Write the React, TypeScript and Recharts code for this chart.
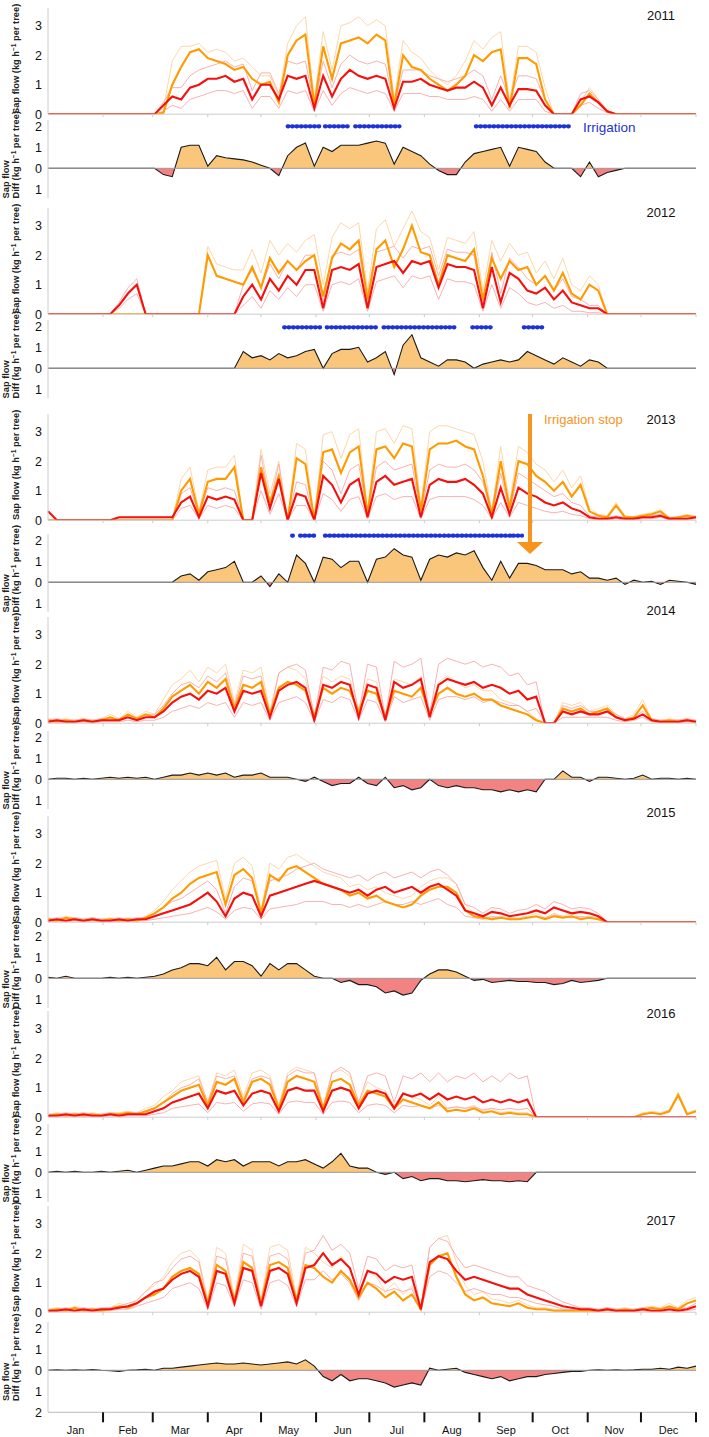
import React from 'react';
import { ComposedChart, Line, Area, XAxis, YAxis, ReferenceLine } from 'recharts';

// ---------- x grid (day of year, 5-day steps) ----------
const DAYS: number[] = Array.from({ length: 74 }, (_, i) => Math.min(i * 5, 365));
const MONTH_STARTS = [31, 59, 90, 120, 151, 181, 212, 243, 273, 304, 334, 365];
const MONTH_MIDS = [15.5, 45, 74.5, 105, 135.5, 166, 196.5, 227.5, 258, 288.5, 319, 349.5];
const MONTH_LABELS = ['Jan', 'Feb', 'Mar', 'Apr', 'May', 'Jun', 'Jul', 'Aug', 'Sep', 'Oct', 'Nov', 'Dec'];
const SAP_TICKS = [0, 1, 2, 3];
const DIFF_TICKS = [2, 1, 0, -1];
const DIFF_TICKS_LAST = [2, 1, 0, -1, -2];

// ---------- 2011 ----------
const orange2011 = [0,0,0,0,0,0,0,0,0,0, 0,0,0,0.05,1.0,1.6,2.1,2.2,1.9,1.8, 1.7,1.5,1.6,1.2,1.0,1.1,0.4,2.0,2.5,2.7, 0.3,2.3,1.2,2.4,2.5,2.6,2.4,2.7,2.5,0.3, 2.0,1.6,1.5,1.2,1.0,0.8,1.0,1.3,2.0,1.8, 2.1,2.2,0.2,1.9,1.9,1.7,0.5,0,0,0, 0.3,0.7,0.4,0.1,0,0,0,0,0,0, 0,0,0,0];
const orangeHi2011 = [0,0,0,0,0,0,0,0,0,0, 0,0,0,0.2,1.8,2.3,2.3,2.4,2.1,2.2, 2.1,1.8,1.9,1.6,1.3,1.3,0.6,2.4,3.0,3.3, 0.5,2.8,1.5,3.0,3.1,3.3,3.0,3.2,3.0,0.5, 2.5,2.1,1.9,1.5,1.2,1.0,1.3,1.8,2.5,2.2, 2.6,2.8,0.4,2.3,2.3,2.1,0.9,0,0,0, 0.4,0.9,0.5,0.1,0,0,0,0,0,0, 0,0,0,0];
const red2011 = [0,0,0,0,0,0,0,0,0,0, 0,0,0,0.3,0.6,0.5,0.9,1.0,1.2,1.2, 1.3,1.1,1.2,0.5,1.0,1.0,0.5,1.3,1.2,1.3, 0.2,1.3,0.6,1.2,1.5,1.3,1.2,1.3,1.2,0.2, 1.1,1.1,1.2,1.0,0.9,0.8,0.9,0.9,1.1,0.9, 0.3,0.9,0.3,0.85,0.85,0.8,0.3,0,0,0, 0.5,0.6,0.4,0.1,0,0,0,0,0,0, 0,0,0,0];
const redHi2011 = [0,0,0,0,0,0,0,0,0,0, 0,0,0,0.4,0.9,0.9,1.3,1.5,1.6,1.7, 1.8,1.6,1.7,0.8,1.4,1.4,0.7,1.8,1.7,1.8, 0.3,1.8,0.9,1.7,2.0,1.8,1.7,1.8,1.7,0.3, 1.5,1.5,1.5,1.3,1.2,1.1,1.2,1.3,1.5,1.3, 0.5,1.3,0.5,1.3,1.3,1.2,0.5,0,0,0, 0.7,0.8,0.5,0.1,0,0,0,0,0,0, 0,0,0,0];
const redLo2011 = [0,0,0,0,0,0,0,0,0,0, 0,0,0,0.1,0.3,0.2,0.5,0.6,0.7,0.8, 0.8,0.7,0.8,0.2,0.6,0.6,0.2,0.8,0.7,0.8, 0.1,0.8,0.3,0.7,0.9,0.8,0.7,0.8,0.7,0.1, 0.7,0.7,0.7,0.6,0.6,0.5,0.5,0.5,0.6,0.5, 0.1,0.5,0.1,0.5,0.5,0.5,0.1,0,0,0, 0.3,0.4,0.2,0.05,0,0,0,0,0,0, 0,0,0,0];
const diff2011 = [0,0,0,0,0,0,0,0,0,0, 0,0,0,-0.3,-0.4,1.0,1.1,1.1,0.1,0.6, 0.5,0.45,0.4,0.3,0.15,0.0,-0.35,0.6,1.0,1.2, 0.1,1.0,0.8,1.1,1.1,1.1,1.2,1.3,1.2,0.2, 1.0,0.8,0.6,0.2,-0.1,-0.3,-0.3,0.3,0.7,0.8, 0.9,1.0,0.1,1.0,0.9,0.8,0.3,0,0,0, -0.4,0.3,-0.4,-0.2,-0.1,0,0,0,0,0, 0,0,0,0];
const irrigation2011 = [[135, 154], [156, 170], [173, 198], [241, 281], [283, 294]];

// ---------- 2012 ----------
const orange2012 = [0,0,0,0,0,0,0,0,0,0, 0,0,0,0,0,0,0,0,2.0,1.3, 1.2,1.1,1.0,1.6,0.9,1.9,1.4,1.8,1.5,1.8, 2.0,0.6,1.9,2.4,2.2,2.5,0.5,2.2,2.5,1.6, 2.2,3.0,2.1,2.0,1.0,2.0,1.9,1.8,2.2,0.5, 1.9,1.2,1.8,1.5,1.6,1.0,1.3,0.8,1.4,0.7, 0.5,1.0,0.8,0,0,0,0,0,0,0, 0,0,0,0];
const orangeHi2012 = [0,0,0,0,0,0,0,0,0,0, 0,0,0,0,0,0,0,0,2.3,1.7, 1.6,1.5,1.5,2.2,1.4,2.5,2.0,2.4,2.1,2.5, 2.7,1.0,2.6,3.1,2.9,3.1,0.8,2.9,3.2,2.3, 2.9,3.5,2.8,2.6,1.5,2.6,2.5,2.4,2.8,0.8, 2.5,1.8,2.4,2.0,2.1,1.4,1.8,1.2,1.9,1.0, 0.8,1.3,1.0,0,0,0,0,0,0,0, 0,0,0,0];
const red2012 = [0,0,0,0,0,0,0,0,0.3,0.7, 1.0,0,0,0,0,0,0,0,0,0, 0,0,0.6,1.0,0.5,1.2,0.8,1.3,1.0,1.5, 1.5,0.2,1.5,1.6,1.5,1.7,0.2,1.6,1.7,1.8, 1.4,1.8,1.7,1.8,0.9,1.7,1.6,1.6,1.5,0.2, 1.6,0.4,1.4,1.2,0.8,0.7,0.9,0.5,0.8,0.4, 0.3,0.2,0.2,0,0,0,0,0,0,0, 0,0,0,0];
const redHi2012 = [0,0,0,0,0,0,0,0,0.4,0.9, 1.2,0,0,0,0,0,0,0,0,0, 0,0,1.0,1.5,0.9,1.7,1.2,1.8,1.5,2.0, 2.0,0.4,2.0,2.1,2.0,2.2,0.4,2.1,2.2,2.3, 1.9,2.3,2.2,2.3,1.3,2.2,2.1,2.1,2.0,0.4, 2.1,0.7,1.9,1.6,1.2,1.0,1.3,0.8,1.2,0.6, 0.5,0.3,0.3,0,0,0,0,0,0,0, 0,0,0,0];
const redLo2012 = [0,0,0,0,0,0,0,0,0.2,0.5, 0.7,0,0,0,0,0,0,0,0,0, 0,0,0.3,0.6,0.2,0.8,0.5,0.9,0.6,1.0, 1.0,0.1,1.0,1.1,1.0,1.2,0.1,1.1,1.2,1.3, 0.9,1.3,1.2,1.3,0.5,1.2,1.1,1.1,1.0,0.1, 1.0,0.2,0.9,0.7,0.4,0.3,0.4,0.2,0.3,0.1, 0.1,0.05,0.05,0,0,0,0,0,0,0, 0,0,0,0];
const diff2012 = [0,0,0,0,0,0,0,0,0,0, 0,0,0,0,0,0,0,0,0,0, 0,0,0.8,0.5,0.6,0.4,0.7,0.5,0.6,0.8, 0.9,0.0,0.7,0.9,0.9,1.0,0.3,0.5,0.8,-0.3, 1.1,1.6,0.5,0.3,0.1,0.4,0.4,0.3,0.0,0.2, 0.3,0.4,0.3,0.4,0.8,0.6,0.4,0.2,0.5,0.3, 0.1,0.4,0.3,0,0,0,0,0,0,0, 0,0,0,0];
const irrigation2012 = [[133, 154], [157, 186], [189, 224], [226, 229], [239, 251], [268, 279]];

// ---------- 2013 ----------
const orange2013 = [0,0,0,0,0,0,0,0,0,0, 0,0,0,0,0,1.0,1.4,0.2,1.3,1.4, 1.4,1.8,0,0,1.8,0.6,1.5,0,2.1,1.9, 0,2.3,2.4,1.6,2.3,2.5,0.2,2.4,2.5,2.1, 2.6,2.5,0.3,2.4,2.6,2.6,2.7,2.5,2.4,1.5, 0.2,2.0,0.4,2.0,1.9,1.5,1.3,1.0,1.3,0.8, 1.2,0.3,0.15,0.1,0.5,0.1,0.1,0.15,0.2,0.3, 0.05,0.1,0.15,0.1];
const orangeHi2013 = [0,0,0,0,0,0,0,0,0,0, 0,0,0,0,0,1.4,1.8,0.3,1.7,1.8, 1.8,2.2,0,0,2.4,0.9,2.0,0,2.6,2.4, 0,2.9,3.0,2.1,2.9,3.1,0.3,3.0,3.1,2.6, 3.2,3.1,0.5,3.0,3.2,3.2,3.1,3.0,2.9,2.0, 0.3,2.5,0.6,2.5,2.3,1.9,1.7,1.3,1.7,1.1, 1.5,0.4,0.2,0.15,0.6,0.15,0.1,0.2,0.25,0.35, 0.1,0.1,0.2,0.1];
const red2013 = [0.3,0,0,0,0,0,0,0,0.1,0.1, 0.1,0.1,0.1,0.1,0.1,0.6,0.8,0.1,0.8,0.7, 0.8,0.7,0,0,1.6,0.4,1.4,0,0.9,0.8, 0,1.5,1.2,0.6,1.2,1.4,0.1,1.3,1.5,1.2, 1.3,1.4,0.1,1.2,1.4,1.3,1.3,1.4,1.2,0.9, 0.1,1.1,0.2,1.1,0.9,0.8,0.6,0.5,0.6,0.4, 0.3,0.1,0.05,0.05,0.1,0.05,0.05,0.1,0.1,0.15, 0.05,0.05,0.05,0.1];
const redHi2013 = [0,0,0,0,0,0,0,0,0,0, 0,0,0,0,0,0.9,1.1,0.2,1.1,1.0, 1.1,1.0,0,0,2.2,0.6,1.9,0,1.3,1.2, 0,2.0,1.7,0.9,1.7,1.9,0.2,1.8,2.0,1.7, 1.8,1.9,0.2,1.7,1.9,1.8,1.8,1.9,1.7,1.3, 0.2,1.6,0.3,1.6,1.4,1.2,1.0,0.8,0.9,0.6, 0.5,0.15,0.1,0.1,0.15,0.1,0.1,0.15,0.15,0.2, 0.1,0.1,0.1,0.15];
const redLo2013 = [0,0,0,0,0,0,0,0,0,0, 0,0,0,0,0,0.4,0.5,0.05,0.5,0.4, 0.5,0.4,0,0,1.0,0.2,0.9,0,0.5,0.5, 0,0.9,0.7,0.3,0.7,0.8,0.05,0.8,0.9,0.7, 0.8,0.8,0.05,0.7,0.8,0.8,0.8,0.8,0.7,0.5, 0.05,0.6,0.1,0.6,0.5,0.4,0.3,0.25,0.3,0.2, 0.15,0.05,0,0,0.05,0,0,0.05,0.05,0.1, 0,0,0,0.05];
const diff2013 = [0,0,0,0,0,0,0,0,0,0, 0,0,0,0,0,0.3,0.4,0.1,0.5,0.6, 0.7,1.0,0,0,0.3,-0.2,0.4,0,1.3,0.9, 0,1.2,1.1,0.7,1.0,1.0,0.0,1.1,1.2,1.6, 1.3,1.2,0.1,1.1,1.3,1.2,1.4,1.3,1.5,0.7, 0.1,1.0,0.2,0.9,0.9,0.8,0.6,0.6,0.6,0.4, 0.5,0.2,0.2,0.1,0.2,-0.1,0.1,0.0,0.05,-0.1, 0.1,0.05,0.0,-0.1];
const irrigation2013 = [[137.5, 138.5], [142, 151], [156, 211], [213, 221], [223, 253], [255, 261], [262, 267]];

// ---------- 2014 ----------
const orange2014 = [0.1,0.05,0.1,0.05,0.1,0.05,0.1,0.2,0.1,0.3, 0.15,0.3,0.2,0.5,0.9,1.1,1.3,1.0,1.4,1.2, 1.5,0.5,1.3,1.2,1.4,0.3,1.2,1.4,1.3,1.1, 0.2,1.2,1.0,1.2,1.1,0.4,1.1,1.0,0.2,1.1, 1.0,0.9,1.2,0.3,1.0,1.2,1.0,0.9,1.0,0.8, 0.8,0.6,0.5,0.4,0.3,0.1,0,0,0.5,0.4, 0.5,0.3,0.4,0.5,0.2,0.1,0.2,0.6,0.1,0.05, 0.1,0.05,0.1,0.05];
const orangeHi2014 = [0.15,0.1,0.15,0.1,0.15,0.1,0.15,0.3,0.15,0.4, 0.2,0.4,0.3,0.8,1.3,1.5,1.8,1.4,1.9,1.7, 2.0,0.7,1.8,1.7,1.9,0.4,1.7,1.9,1.8,1.5, 0.3,1.6,1.4,1.6,1.5,0.5,1.5,1.4,0.3,1.5, 1.4,1.3,1.6,0.4,1.4,1.6,1.4,1.2,1.3,1.1, 1.1,0.8,0.7,0.6,0.4,0.15,0,0,0.7,0.6, 0.7,0.4,0.5,0.6,0.3,0.15,0.3,0.8,0.15,0.1, 0.15,0.1,0.15,0.1];
const red2014 = [0.05,0.1,0.05,0.05,0.1,0.05,0.1,0.1,0.1,0.2, 0.1,0.2,0.2,0.4,0.7,0.9,1.0,0.8,1.1,1.0, 1.2,0.4,1.1,1.0,1.1,0.2,1.1,1.3,1.4,1.2, 0.1,1.3,1.2,1.4,1.3,0.2,1.3,1.2,0.1,1.4, 1.2,1.3,1.5,0.2,1.3,1.5,1.4,1.3,1.4,1.2, 1.3,1.2,1.0,1.1,0.8,0.9,0,0,0.4,0.3, 0.4,0.3,0.3,0.4,0.2,0.1,0.15,0.3,0.1,0.05, 0.05,0.05,0.1,0.05];
const redHi2014 = [0.1,0.15,0.1,0.1,0.15,0.1,0.15,0.15,0.15,0.3, 0.15,0.3,0.3,0.6,1.0,1.3,1.4,1.2,1.6,1.4, 1.7,0.6,1.6,1.5,1.6,0.3,1.7,1.9,2.0,1.8, 0.2,1.9,1.8,2.1,2.0,0.3,2.0,1.9,0.2,2.1, 1.9,2.0,2.2,0.3,2.0,2.2,2.1,2.0,2.1,1.9, 2.0,1.9,1.6,1.7,1.3,1.4,0,0,0.6,0.5, 0.6,0.4,0.4,0.5,0.3,0.15,0.2,0.4,0.15,0.1, 0.1,0.1,0.15,0.1];
const redLo2014 = [0,0.05,0,0,0.05,0,0.05,0.05,0.05,0.1, 0.05,0.1,0.1,0.2,0.4,0.5,0.6,0.5,0.7,0.6, 0.7,0.2,0.7,0.6,0.7,0.1,0.7,0.8,0.9,0.7, 0.05,0.8,0.7,0.9,0.8,0.1,0.8,0.7,0.05,0.9, 0.7,0.8,0.9,0.1,0.8,0.9,0.9,0.8,0.9,0.7, 0.8,0.7,0.6,0.6,0.4,0.5,0,0,0.2,0.2, 0.2,0.2,0.2,0.2,0.1,0.05,0.1,0.2,0.05,0, 0,0,0.05,0];
const diff2014 = [0,0.05,0.05,0,0.05,0,0.05,0.1,0.05,0.1, 0.05,0.1,0.0,0.1,0.2,0.2,0.3,0.2,0.3,0.2, 0.3,0.1,0.2,0.2,0.3,0.1,0.1,0.1,0.0,-0.1, 0.1,-0.1,-0.3,-0.2,-0.2,0.1,-0.2,-0.3,0.1,-0.4, -0.3,-0.5,-0.4,0.0,-0.3,-0.4,-0.3,-0.4,-0.4,-0.5, -0.5,-0.6,-0.5,-0.6,-0.5,-0.6,0,0,0.4,0.1, 0.1,-0.1,0.1,0.1,0.05,0,0.05,0.2,0.0,0.05, 0.05,0,0.05,0.0];

// ---------- 2015 ----------
const orange2015 = [0.1,0.05,0.15,0.1,0.05,0.1,0.05,0.1,0.05,0.1, 0.05,0.15,0.3,0.5,0.8,1.0,1.3,1.5,1.6,1.7, 0.6,1.6,1.8,1.5,0.3,1.6,1.4,1.8,1.9,1.7, 1.5,1.3,1.2,1.1,0.9,1.0,0.8,0.9,0.7,0.6, 0.5,0.6,0.9,1.1,1.2,1.2,1.0,0.4,0.2,0.15, 0.1,0.15,0.1,0.1,0.15,0.2,0.1,0.2,0.15,0.2, 0.1,0.15,0.1,0,0,0,0,0,0,0, 0,0,0,0];
const orangeHi2015 = [0.15,0.1,0.2,0.15,0.1,0.15,0.1,0.15,0.1,0.15, 0.1,0.2,0.4,0.7,1.1,1.4,1.7,1.9,2.0,2.1, 0.8,2.0,2.2,1.9,0.4,2.0,1.8,2.2,2.3,2.1, 1.9,1.7,1.6,1.5,1.2,1.3,1.1,1.2,1.0,0.9, 0.8,0.9,1.2,1.4,1.5,1.5,1.3,0.6,0.3,0.2, 0.15,0.2,0.15,0.15,0.2,0.3,0.15,0.3,0.2,0.3, 0.15,0.2,0.15,0,0,0,0,0,0,0, 0,0,0,0];
const red2015 = [0.05,0.1,0.05,0.1,0.05,0.1,0.05,0.05,0.1,0.05, 0.1,0.1,0.2,0.3,0.4,0.5,0.6,0.8,1.0,0.7, 0.2,0.8,1.0,0.9,0.2,0.9,1.0,1.1,1.2,1.3, 1.4,1.3,1.2,1.1,1.0,1.1,0.9,1.1,1.2,1.0, 1.1,1.2,1.0,1.2,1.3,1.1,0.9,0.4,0.3,0.2, 0.35,0.3,0.2,0.25,0.3,0.4,0.3,0.5,0.4,0.3, 0.35,0.3,0.2,0,0,0,0,0,0,0, 0,0,0,0];
const redHi2015 = [0.1,0.15,0.1,0.15,0.1,0.15,0.1,0.1,0.15,0.1, 0.15,0.15,0.3,0.5,0.7,0.8,1.0,1.2,1.4,1.1, 0.3,1.2,1.5,1.4,0.3,1.4,1.5,1.6,1.8,1.9, 2.0,1.8,1.7,1.6,1.5,1.6,1.4,1.6,1.7,1.5, 1.6,1.7,1.5,1.7,1.8,1.6,1.3,0.6,0.5,0.3, 0.5,0.45,0.3,0.4,0.45,0.6,0.45,0.7,0.6,0.45, 0.5,0.45,0.3,0,0,0,0,0,0,0, 0,0,0,0];
const redLo2015 = [0,0.05,0,0.05,0,0.05,0,0,0.05,0, 0.05,0.05,0.1,0.15,0.2,0.25,0.3,0.4,0.5,0.35, 0.1,0.4,0.5,0.45,0.1,0.45,0.5,0.55,0.6,0.7, 0.7,0.7,0.6,0.6,0.5,0.6,0.5,0.6,0.7,0.6, 0.6,0.7,0.6,0.7,0.8,0.6,0.5,0.2,0.15,0.1, 0.2,0.15,0.1,0.1,0.15,0.2,0.15,0.25,0.2,0.15, 0.2,0.15,0.1,0,0,0,0,0,0,0, 0,0,0,0];
const diff2015 = [0.05,0,0.1,0,0,0,0,0.05,0,0.05, 0,0.05,0.1,0.2,0.4,0.5,0.7,0.7,0.6,1.0, 0.4,0.8,0.8,0.6,0.1,0.7,0.4,0.7,0.7,0.4, 0.1,0.0,0.0,-0.2,-0.1,-0.3,-0.3,-0.4,-0.7,-0.6, -0.8,-0.7,-0.1,0.2,0.4,0.4,0.3,0.1,-0.1,-0.05, -0.2,-0.15,-0.1,-0.15,-0.15,-0.2,-0.2,-0.3,-0.25,-0.1, -0.2,-0.15,-0.1,0,0,0,0,0,0,0, 0,0,0,0];

// ---------- 2016 ----------
const orange2016 = [0.05,0.1,0.05,0.1,0.05,0.1,0.05,0.1,0.1,0.15, 0.1,0.2,0.3,0.5,0.7,0.9,1.0,1.1,0.4,1.2, 1.1,1.3,0.5,1.2,1.3,1.1,0.3,1.2,1.4,1.3, 1.2,0.3,1.2,1.3,1.1,0.4,0.9,0.8,0.7,0.3, 0.6,0.5,0.4,0.3,0.5,0.2,0.25,0.2,0.3,0.15, 0.2,0.1,0.15,0.1,0.1,0,0,0,0,0, 0,0,0,0,0,0,0,0.1,0.15,0.1, 0.2,0.75,0.1,0.2];
const orangeHi2016 = [0.1,0.15,0.1,0.15,0.1,0.15,0.1,0.15,0.15,0.2, 0.15,0.3,0.4,0.7,0.9,1.2,1.3,1.4,0.5,1.5, 1.4,1.6,0.7,1.5,1.6,1.4,0.4,1.5,1.7,1.6, 1.5,0.4,1.5,1.6,1.4,0.5,1.2,1.0,0.9,0.4, 0.8,0.7,0.6,0.4,0.7,0.3,0.35,0.3,0.4,0.2, 0.3,0.15,0.2,0.15,0.15,0,0,0,0,0, 0,0,0,0,0,0,0,0.15,0.2,0.15, 0.25,0.85,0.15,0.25];
const red2016 = [0.05,0.05,0.1,0.05,0.1,0.05,0.05,0.1,0.05,0.1, 0.1,0.1,0.2,0.3,0.5,0.6,0.7,0.8,0.3,0.9, 0.8,0.9,0.4,0.8,0.9,0.8,0.2,0.9,1.0,0.9, 0.9,0.2,0.9,1.0,0.9,0.3,0.8,0.9,0.8,0.3, 0.8,0.7,0.8,0.6,0.8,0.6,0.7,0.6,0.7,0.5, 0.6,0.5,0.6,0.5,0.6,0,0,0,0,0, 0,0,0,0,0,0,0,0,0,0, 0,0,0,0];
const redHi2016 = [0.1,0.1,0.15,0.1,0.15,0.1,0.1,0.15,0.1,0.15, 0.15,0.15,0.3,0.5,0.8,1.0,1.1,1.3,0.5,1.4, 1.3,1.4,0.6,1.3,1.4,1.3,0.3,1.4,1.6,1.5, 1.5,0.3,1.5,1.7,1.5,0.5,1.4,1.5,1.4,0.5, 1.4,1.3,1.5,1.2,1.5,1.2,1.4,1.3,1.5,1.2, 1.4,1.2,1.5,1.3,1.4,0,0,0,0,0, 0,0,0,0,0,0,0,0,0,0, 0,0,0,0];
const redLo2016 = [0,0,0.05,0,0.05,0,0,0.05,0,0.05, 0.05,0.05,0.1,0.15,0.3,0.35,0.4,0.45,0.15,0.5, 0.45,0.5,0.2,0.45,0.5,0.45,0.1,0.5,0.55,0.5, 0.5,0.1,0.5,0.55,0.5,0.15,0.4,0.45,0.4,0.15, 0.4,0.35,0.4,0.3,0.4,0.3,0.35,0.3,0.35,0.25, 0.3,0.25,0.3,0.25,0.3,0,0,0,0,0, 0,0,0,0,0,0,0,0,0,0, 0,0,0,0];
const diff2016 = [0,0.05,0,0.05,0,0,0.05,0,0.05,0.1, 0,0.1,0.2,0.3,0.3,0.4,0.5,0.5,0.3,0.6, 0.5,0.6,0.3,0.5,0.5,0.5,0.3,0.5,0.5,0.6, 0.4,0.2,0.5,0.9,0.3,0.2,0.2,0.0,-0.1,0.0, -0.3,-0.2,-0.4,-0.3,-0.3,-0.4,-0.4,-0.45,-0.4,-0.35, -0.4,-0.4,-0.45,-0.4,-0.45,0,0,0,0,0, 0,0,0,0,0,0,0,0,0,0, 0,0,0,0];

// ---------- 2017 ----------
const orange2017 = [0.05,0.1,0.05,0.15,0.05,0.1,0.05,0.1,0.2,0.15, 0.3,0.5,0.6,0.8,1.2,1.4,1.5,1.3,0.3,1.6, 1.4,0.4,1.7,1.5,0.3,1.6,1.7,1.5,0.4,1.6, 1.5,1.2,1.0,1.4,1.1,0.5,1.0,0.8,0.5,0.7, 0.4,0.6,0.1,1.6,1.9,2.0,1.2,0.6,0.4,0.5, 0.3,0.25,0.2,0.3,0.15,0.1,0.1,0.05,0.05,0.05, 0.05,0.05,0.05,0.1,0.05,0.1,0.05,0.1,0.15,0.1, 0.2,0.1,0.3,0.4];
const orangeHi2017 = [0.1,0.15,0.1,0.2,0.1,0.15,0.1,0.15,0.3,0.2, 0.4,0.7,0.9,1.2,1.7,2.0,2.1,1.8,0.4,2.2, 2.0,0.5,2.3,2.1,0.4,2.2,2.3,2.1,0.5,2.2, 2.0,1.7,1.5,1.9,1.5,0.7,1.4,1.2,0.7,1.0, 0.6,0.9,0.15,2.2,2.5,2.6,1.7,0.9,0.6,0.7, 0.45,0.4,0.3,0.4,0.25,0.15,0.15,0.1,0.1,0.1, 0.1,0.1,0.1,0.15,0.1,0.15,0.1,0.15,0.2,0.15, 0.3,0.15,0.4,0.5];
const red2017 = [0.05,0.05,0.1,0.05,0.1,0.05,0.1,0.1,0.15,0.2, 0.3,0.5,0.7,0.8,1.1,1.3,1.4,1.2,0.2,1.4, 1.3,0.3,1.5,1.4,0.2,1.4,1.5,1.3,0.3,1.5, 1.6,2.0,1.6,1.8,1.5,0.6,1.4,1.3,1.0,1.2, 1.1,1.2,0.1,1.7,1.9,1.8,1.4,1.1,1.2,1.1, 1.0,0.9,0.8,0.8,0.6,0.5,0.4,0.3,0.2,0.15, 0.1,0.1,0.05,0.1,0.05,0.05,0.05,0.1,0.05,0.05, 0.1,0.05,0.1,0.2];
const redHi2017 = [0.1,0.1,0.15,0.1,0.15,0.1,0.15,0.15,0.2,0.3, 0.4,0.7,1.0,1.1,1.5,1.8,1.9,1.7,0.3,1.9, 1.8,0.4,2.0,1.9,0.3,1.9,2.0,1.8,0.4,2.0, 2.1,2.6,2.1,2.3,2.0,0.8,1.9,1.8,1.4,1.6, 1.5,1.6,0.15,2.2,2.5,2.4,1.9,1.5,1.6,1.5, 1.4,1.3,1.2,1.2,0.9,0.8,0.7,0.5,0.35,0.25, 0.15,0.15,0.1,0.15,0.1,0.1,0.1,0.15,0.1,0.1, 0.15,0.1,0.15,0.3];
const redLo2017 = [0,0,0.05,0,0.05,0,0.05,0.05,0.1,0.1, 0.2,0.3,0.4,0.5,0.8,0.9,1.0,0.8,0.1,1.0, 0.9,0.2,1.1,1.0,0.1,1.0,1.1,0.9,0.2,1.1, 1.1,1.4,1.1,1.3,1.0,0.4,1.0,0.9,0.7,0.8, 0.7,0.8,0.05,1.2,1.4,1.3,1.0,0.7,0.8,0.7, 0.6,0.6,0.5,0.5,0.4,0.3,0.25,0.2,0.1,0.1, 0.05,0.05,0,0.05,0,0,0,0.05,0,0, 0.05,0,0.05,0.1];
const diff2017 = [0,0.02,0,0.02,0,0.03,0,-0.02,-0.05,0, 0.02,0.05,0.0,0.1,0.1,0.15,0.2,0.25,0.3,0.35, 0.3,0.3,0.35,0.3,0.25,0.3,0.35,0.4,0.3,0.5, 0.2,-0.3,-0.5,-0.2,-0.5,-0.4,-0.4,-0.5,-0.6,-0.8, -0.7,-0.6,-0.7,0.1,0.0,0.05,0.1,-0.1,-0.2,-0.3, -0.4,-0.3,-0.5,-0.4,-0.3,-0.3,-0.2,-0.15,-0.1,-0.05, -0.05,0.0,0.02,0.0,0.02,0.0,0.02,0.05,0.05,0.1, 0.05,0.15,0.1,0.2];

// ---------- layout / styling ----------
const FONT = '"Liberation Sans", Arial, Helvetica, sans-serif';
const W = 709;
const PLOT_RIGHT_MARGIN = 13;
const AXIS_W = 48;
const K = 29.5;       // px per unit in sap-flow panels
const SAP_MAX = 3.6;
const KD = 21;        // px per unit in diff panels
const C_ORANGE = '#ff9a00';
const C_RED = '#f5100e';
const C_ORANGE_THIN = '#fdd3a0';
const C_PINK_THIN = '#f8a8a8';
const C_FILL_POS = '#f9c67c';
const C_FILL_NEG = '#f38282';
const C_BLUE = '#1d33d6';
const C_AXIS = '#cccccc';

type YearCfg = {
  year: number;
  orange: number[]; orangeHi: number[]; red: number[]; redHi: number[]; redLo: number[]; diff: number[];
  irr?: number[][]; irrLevel?: number;
  sapZero: number; diffZero: number; labelY: number; diffDomain: [number, number]; last?: boolean;
};

const YEARS: YearCfg[] = [
  { year: 2011, orange: orange2011, orangeHi: orangeHi2011, red: red2011, redHi: redHi2011, redLo: redLo2011, diff: diff2011, irr: irrigation2011, irrLevel: 2.0, sapZero: 114, diffZero: 168, labelY: 20, diffDomain: [-1.45, 2.3] },
  { year: 2012, orange: orange2012, orangeHi: orangeHi2012, red: red2012, redHi: redHi2012, redLo: redLo2012, diff: diff2012, irr: irrigation2012, irrLevel: 1.95, sapZero: 314, diffZero: 368, labelY: 217, diffDomain: [-1.45, 2.3] },
  { year: 2013, orange: orange2013, orangeHi: orangeHi2013, red: red2013, redHi: redHi2013, redLo: redLo2013, diff: diff2013, irr: irrigation2013, irrLevel: 2.22, sapZero: 520, diffZero: 582, labelY: 424, diffDomain: [-1.45, 2.3] },
  { year: 2014, orange: orange2014, orangeHi: orangeHi2014, red: red2014, redHi: redHi2014, redLo: redLo2014, diff: diff2014, sapZero: 723, diffZero: 779, labelY: 615, diffDomain: [-1.45, 2.3] },
  { year: 2015, orange: orange2015, orangeHi: orangeHi2015, red: red2015, redHi: redHi2015, redLo: redLo2015, diff: diff2015, sapZero: 922, diffZero: 978, labelY: 817, diffDomain: [-1.45, 2.3] },
  { year: 2016, orange: orange2016, orangeHi: orangeHi2016, red: red2016, redHi: redHi2016, redLo: redLo2016, diff: diff2016, sapZero: 1117, diffZero: 1172, labelY: 1018, diffDomain: [-1.45, 2.3] },
  { year: 2017, orange: orange2017, orangeHi: orangeHi2017, red: red2017, redHi: redHi2017, redLo: redLo2017, diff: diff2017, sapZero: 1312, diffZero: 1370, labelY: 1225, diffDomain: [-2, 2.3], last: true },
];

function rowsFor(y: YearCfg) {
  return DAYS.map((d, i) => ({
    day: d,
    o: y.orange[i], oh: y.orangeHi[i], r: y.red[i], rh: y.redHi[i], rl: y.redLo[i], diff: y.diff[i],
  }));
}

function irrRows(y: YearCfg) {
  const out: { day: number; v: number | null }[] = [];
  (y.irr || []).forEach(([s, e]) => {
    out.push({ day: s, v: y.irrLevel! });
    out.push({ day: e, v: y.irrLevel! });
    out.push({ day: e + 0.2, v: null });
  });
  return out;
}

const tickStyle = { fontSize: 12.5, fill: '#111', fontFamily: FONT };

function SapPanel({ y }: { y: YearCfg }) {
  const MT = 4, XH = 4, MB = 10;
  const plotH = SAP_MAX * K;
  const top = y.sapZero - plotH - MT;
  const data = rowsFor(y);
  return (
    <div style={{ position: 'absolute', left: 0, top }}>
      <ComposedChart width={W} height={MT + plotH + XH + MB} data={data} margin={{ top: MT, right: PLOT_RIGHT_MARGIN, bottom: MB, left: 0 }}>
        <XAxis dataKey="day" type="number" domain={[0, 365]} ticks={MONTH_STARTS} interval={0} tickFormatter={() => ''}
          height={XH} tickSize={3} axisLine={{ stroke: C_AXIS }} tickLine={{ stroke: C_AXIS }} />
        <YAxis type="number" domain={[0, SAP_MAX]} ticks={SAP_TICKS} width={AXIS_W} axisLine={{ stroke: C_AXIS }}
          tickLine={false} tickSize={3} tickMargin={3} tick={tickStyle} allowDataOverflow interval={0} />
        <Line dataKey="oh" stroke={C_ORANGE_THIN} strokeWidth={0.9} dot={false} isAnimationActive={false} />
        <Line dataKey="rh" stroke={C_PINK_THIN} strokeWidth={0.9} dot={false} isAnimationActive={false} />
        <Line dataKey="rl" stroke={C_PINK_THIN} strokeWidth={0.9} dot={false} isAnimationActive={false} />
        <Line dataKey="o" stroke={C_ORANGE} strokeWidth={2.1} dot={false} isAnimationActive={false} />
        <Line dataKey="r" stroke={C_RED} strokeWidth={2.1} dot={false} isAnimationActive={false} />
      </ComposedChart>
    </div>
  );
}

function DiffPanel({ y }: { y: YearCfg }) {
  const MT = 2;
  const [lo, hi] = y.diffDomain;
  const plotH = (hi - lo) * KD;
  const last = !!y.last;
  const xh = last ? 10 : 0;
  const lh = last ? 18 : 0;
  const top = y.diffZero - hi * KD - MT;
  const off = hi / (hi - lo);
  const gid = 'dg' + y.year;
  const data = rowsFor(y);
  return (
    <div style={{ position: 'absolute', left: 0, top }}>
      <ComposedChart width={W} height={MT + plotH + xh + lh} data={data} margin={{ top: MT, right: PLOT_RIGHT_MARGIN, bottom: 0, left: 0 }}>
        <defs>
          <linearGradient id={gid} gradientUnits="userSpaceOnUse" x1="0" y1={MT} x2="0" y2={MT + plotH}>
            <stop offset={off} stopColor={C_FILL_POS} />
            <stop offset={off} stopColor={C_FILL_NEG} />
          </linearGradient>
        </defs>
        <XAxis dataKey="day" type="number" domain={[0, 365]} hide={!last} ticks={MONTH_STARTS} interval={0}
          tickFormatter={() => ''} height={xh} tickSize={10} axisLine={{ stroke: '#bbbbbb' }}
          tickLine={{ stroke: '#111', strokeWidth: 2 }} />
        {last && (
          <XAxis xAxisId="lab" dataKey="day" type="number" domain={[0, 365]} ticks={MONTH_MIDS} interval={0}
            tickFormatter={(v: number) => MONTH_LABELS[MONTH_MIDS.indexOf(v)] || ''} height={lh}
            axisLine={false} tickLine={false} tickSize={0} tickMargin={4}
            tick={{ fontSize: 11, fill: '#111', fontFamily: FONT }} />
        )}
        <YAxis type="number" domain={[lo, hi]} ticks={last ? DIFF_TICKS_LAST : DIFF_TICKS} width={AXIS_W}
          tickFormatter={(v: number) => String(Math.abs(v))} axisLine={{ stroke: C_AXIS }} tickLine={false}
          tickSize={3} tickMargin={3} tick={tickStyle} interval={0} />
        <ReferenceLine y={0} stroke="#9a9a9a" strokeWidth={1} />
        <Area type="linear" dataKey="diff" baseValue={0} stroke="#1a1a1a" strokeWidth={1.1} fill={`url(#${gid})`}
          fillOpacity={1} dot={false} activeDot={false} isAnimationActive={false} />
        {y.irr && (
          <Line data={irrRows(y)} dataKey="v" stroke={C_BLUE} strokeWidth={4.2} strokeDasharray="0.8 3.6"
            strokeLinecap="round" dot={false} activeDot={false} connectNulls={false} isAnimationActive={false} />
        )}
      </ComposedChart>
    </div>
  );
}

function Overlay() {
  return (
    <svg width={W} height={1437} style={{ position: 'absolute', left: 0, top: 0, pointerEvents: 'none' }}>
      {YEARS.map((y) => {
        const [lo] = y.diffDomain;
        const diffBottom = y.diffZero - lo * KD;
        const dStart = Math.min(diffBottom, y.diffZero + 31);
        return (
          <g key={y.year} fontFamily={FONT} fill="#222">
            <text transform={`translate(18.5, ${y.sapZero}) rotate(-90)`} fontSize={9.3} fontWeight="bold">
              Sap flow (kg h<tspan dy={-3} fontSize={6.5}>−1</tspan><tspan dy={3}> per tree)</tspan>
            </text>
            <text transform={`translate(8.5, ${dStart}) rotate(-90)`} fontSize={9.3} fontWeight="bold">Sap flow</text>
            <text transform={`translate(18.5, ${dStart}) rotate(-90)`} fontSize={9.3} fontWeight="bold">
              Diff (kg h<tspan dy={-3} fontSize={6.5}>−1</tspan><tspan dy={3}> per tree)</tspan>
            </text>
            <text x={661} y={y.labelY} fontSize={13} textAnchor="middle" fill="#111">{y.year}</text>
          </g>
        );
      })}
      <text x={583} y={132} fontSize={13.5} fill={C_BLUE} fontFamily={FONT}>Irrigation</text>
      <text x={544} y={424} fontSize={13} fill="#f7941d" fontFamily={FONT}>Irrigation stop</text>
      <line x1={530} y1={414} x2={530} y2={545} stroke="#f7941d" strokeWidth={4} />
      <polygon points="517,542 543,542 530,554" fill="#f7941d" />
    </svg>
  );
}

export default function App() {
  return (
    <div style={{ position: 'absolute', left: 0, top: 0, width: W, height: 1437, background: '#fff', overflow: 'hidden' }}>
      {YEARS.map((y) => (
        <React.Fragment key={y.year}>
          <SapPanel y={y} />
          <DiffPanel y={y} />
        </React.Fragment>
      ))}
      <Overlay />
    </div>
  );
}
